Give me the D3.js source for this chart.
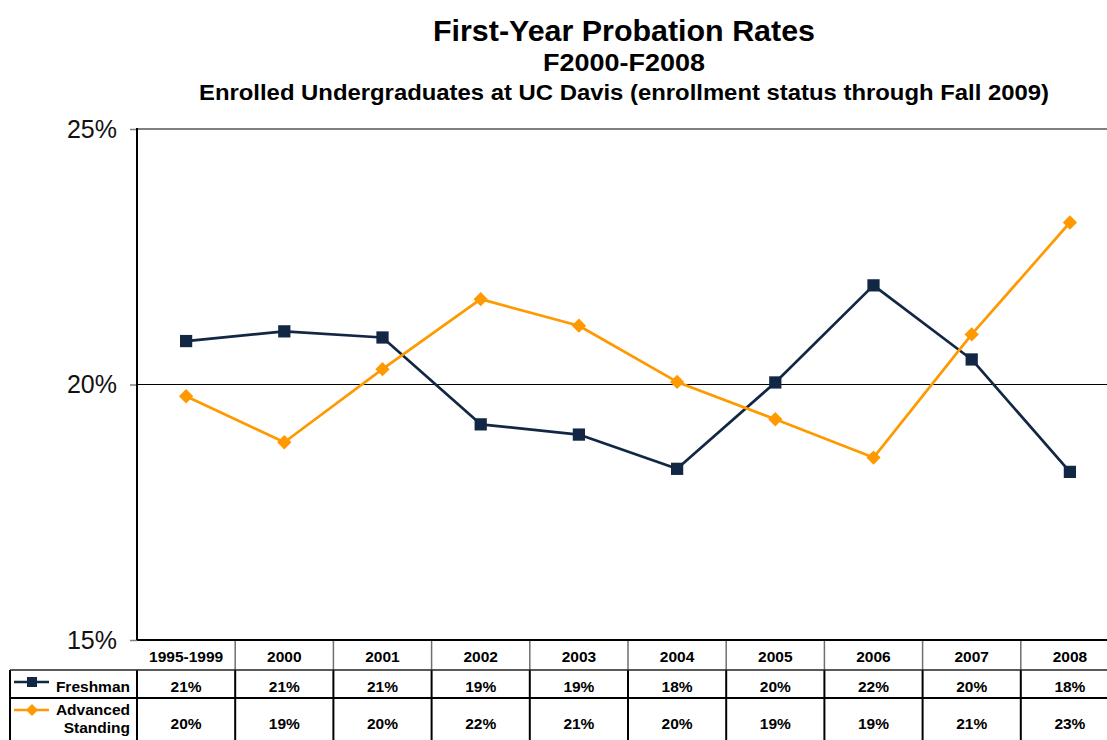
<!DOCTYPE html>
<html>
<head>
<meta charset="utf-8">
<script src="https://cdn.jsdelivr.net/npm/d3@7"></script>
<style>
  html, body { margin: 0; padding: 0; background: #fff; overflow: hidden; }
  svg { display: block; font-family: "Liberation Sans", Arial, sans-serif; }
</style>
</head>
<body>
<svg id="chart" width="1107" height="740"></svg>
<script>
// Cohort categories (x axis / table header)
const categories = ["1995-1999", "2000", "2001", "2002", "2003", "2004", "2005", "2006", "2007", "2008"];

// First-year probation rates per cohort
const freshman = [0.2085, 0.2104, 0.2092, 0.1922, 0.1902, 0.1835, 0.2004, 0.2194, 0.2049, 0.1829];
const advancedStanding = [0.1977, 0.1887, 0.2030, 0.2167, 0.2115, 0.2005, 0.1932, 0.1857, 0.2098, 0.2317];

// Y axis ticks
const yTicks = [0.15, 0.20, 0.25];

const titleLines = [
  "First-Year Probation Rates",
  "F2000-F2008",
  "Enrolled Undergraduates at UC Davis (enrollment status through Fall 2009)"
];

const seriesList = [
  { name: ["Freshman"], values: freshman, color: "#112743", marker: "square" },
  { name: ["Advanced", "Standing"], values: advancedStanding, color: "#FF9900", marker: "diamond" }
];

const svg = d3.select("#chart");
const plotLeft = 137, plotRight = 1119, plotTop = 129, plotBottom = 640;
const tableLeft = 10;

const x = d3.scaleBand().domain(categories).range([plotLeft, plotRight]).paddingInner(0).paddingOuter(0);
const cx = c => x(c) + x.bandwidth() / 2;
const y = d3.scaleLinear().domain([0.15, 0.25]).range([plotBottom, plotTop]);
const pct = d3.format(".0%");

// Titles
const titleSpec = [
  { size: 29, base: 41, len: 382 },
  { size: 23, base: 71, len: 162 },
  { size: 22, base: 100, len: 850 }
];
svg.append("g").selectAll("text").data(titleLines).join("text")
  .attr("x", 624)
  .attr("y", (d, i) => titleSpec[i].base)
  .attr("text-anchor", "middle")
  .attr("font-weight", "bold")
  .attr("font-size", (d, i) => titleSpec[i].size)
  .attr("textLength", (d, i) => titleSpec[i].len)
  .attr("lengthAdjust", "spacingAndGlyphs")
  .attr("fill", "#000")
  .text(d => d);

// Gridlines (20% black, 25% grey)
svg.append("g").selectAll("line").data(yTicks.slice(1)).join("line")
  .attr("x1", plotLeft).attr("x2", plotRight)
  .attr("y1", d => y(d)).attr("y2", d => y(d))
  .attr("stroke", d => d === 0.25 ? "#808080" : "#000")
  .attr("stroke-width", d => d === 0.25 ? 2 : 1.2);

// Y axis
const yAxis = d3.axisLeft(y).tickValues(yTicks).tickFormat(pct).tickSize(7).tickPadding(13);
const gy = svg.append("g").attr("transform", `translate(${plotLeft},0)`).call(yAxis);
gy.select(".domain").remove();
gy.selectAll(".tick line").attr("stroke", "#808080").attr("stroke-width", 1.5);
gy.selectAll(".tick text")
  .attr("font-size", 25)
  .attr("font-family", "Liberation Sans, Arial, sans-serif")
  .attr("fill", "#111");
svg.append("line")
  .attr("x1", plotLeft).attr("x2", plotLeft).attr("y1", plotTop - 1).attr("y2", plotBottom)
  .attr("stroke", "#000").attr("stroke-width", 2);

// Data table under the plot
const rowEdges = [plotBottom, 670, 698, 745];
const tbl = svg.append("g");
// header column separators (grey)
tbl.selectAll("line.hsep").data(categories).join("line")
  .attr("class", "hsep")
  .attr("x1", d => x(d) + x.bandwidth()).attr("x2", d => x(d) + x.bandwidth())
  .attr("y1", rowEdges[0]).attr("y2", rowEdges[1])
  .attr("stroke", "#6f6f6f").attr("stroke-width", 1.5);
// body column separators (black)
const bodySeps = [tableLeft, ...categories.map(d => x(d)), plotRight];
tbl.selectAll("line.bsep").data(bodySeps).join("line")
  .attr("class", "bsep")
  .attr("x1", d => d).attr("x2", d => d)
  .attr("y1", rowEdges[1]).attr("y2", rowEdges[3])
  .attr("stroke", "#000").attr("stroke-width", 2);
// row rules
tbl.append("line").attr("x1", tableLeft).attr("x2", plotRight).attr("y1", rowEdges[1]).attr("y2", rowEdges[1])
  .attr("stroke", "#222").attr("stroke-width", 1.5);
tbl.append("line").attr("x1", tableLeft).attr("x2", plotRight).attr("y1", rowEdges[2]).attr("y2", rowEdges[2])
  .attr("stroke", "#000").attr("stroke-width", 2);

// header labels
tbl.selectAll("text.hdr").data(categories).join("text")
  .attr("class", "hdr")
  .attr("x", d => cx(d)).attr("y", 662)
  .attr("text-anchor", "middle").attr("font-weight", "bold").attr("font-size", 15.5)
  .text(d => d);

// Bottom axis line
svg.append("line").attr("x1", plotLeft).attr("x2", plotRight).attr("y1", plotBottom).attr("y2", plotBottom)
  .attr("stroke", "#000").attr("stroke-width", 2.2);

// value rows and legend keys
const rowBase = [692, 729];
const legendY = [682, 710];
const symFor = m => m === "square"
  ? d3.symbol().type(d3.symbolSquare).size(150)
  : d3.symbol().type(d3.symbolDiamond2).size(130);

seriesList.forEach((s, si) => {
  tbl.selectAll(`text.v${si}`).data(s.values).join("text")
    .attr("class", `v${si}`)
    .attr("x", (d, i) => cx(categories[i])).attr("y", rowBase[si])
    .attr("text-anchor", "middle").attr("font-weight", "bold").attr("font-size", 15.5)
    .text(d => pct(d));
  const nameBase = s.name.length === 1 ? [692] : [715, 733];
  tbl.selectAll(`text.n${si}`).data(s.name).join("text")
    .attr("class", `n${si}`)
    .attr("x", 130).attr("y", (d, i) => nameBase[i])
    .attr("text-anchor", "end").attr("font-weight", "bold").attr("font-size", 15.5)
    .text(d => d);
  tbl.append("line").attr("x1", 14).attr("x2", 49).attr("y1", legendY[si]).attr("y2", legendY[si])
    .attr("stroke", s.color).attr("stroke-width", 2.5);
  tbl.append("path")
    .attr("transform", `translate(32,${legendY[si]})`)
    .attr("d", symFor(s.marker).size(s.marker === "square" ? 100 : 90)())
    .attr("fill", s.color);
});

// Series lines and markers
const line = d3.line().x((d, i) => cx(categories[i])).y(d => y(d));
const plot = svg.append("g");
seriesList.forEach(s => {
  plot.append("path").datum(s.values)
    .attr("d", line)
    .attr("fill", "none").attr("stroke", s.color).attr("stroke-width", 2.7)
    .attr("stroke-linejoin", "round");
});
seriesList.forEach((s, si) => {
  plot.selectAll(`path.m${si}`).data(s.values).join("path")
    .attr("class", `m${si}`)
    .attr("transform", (d, i) => `translate(${cx(categories[i])},${y(d)})`)
    .attr("d", symFor(s.marker)())
    .attr("fill", s.color);
});
</script>
</body>
</html>
